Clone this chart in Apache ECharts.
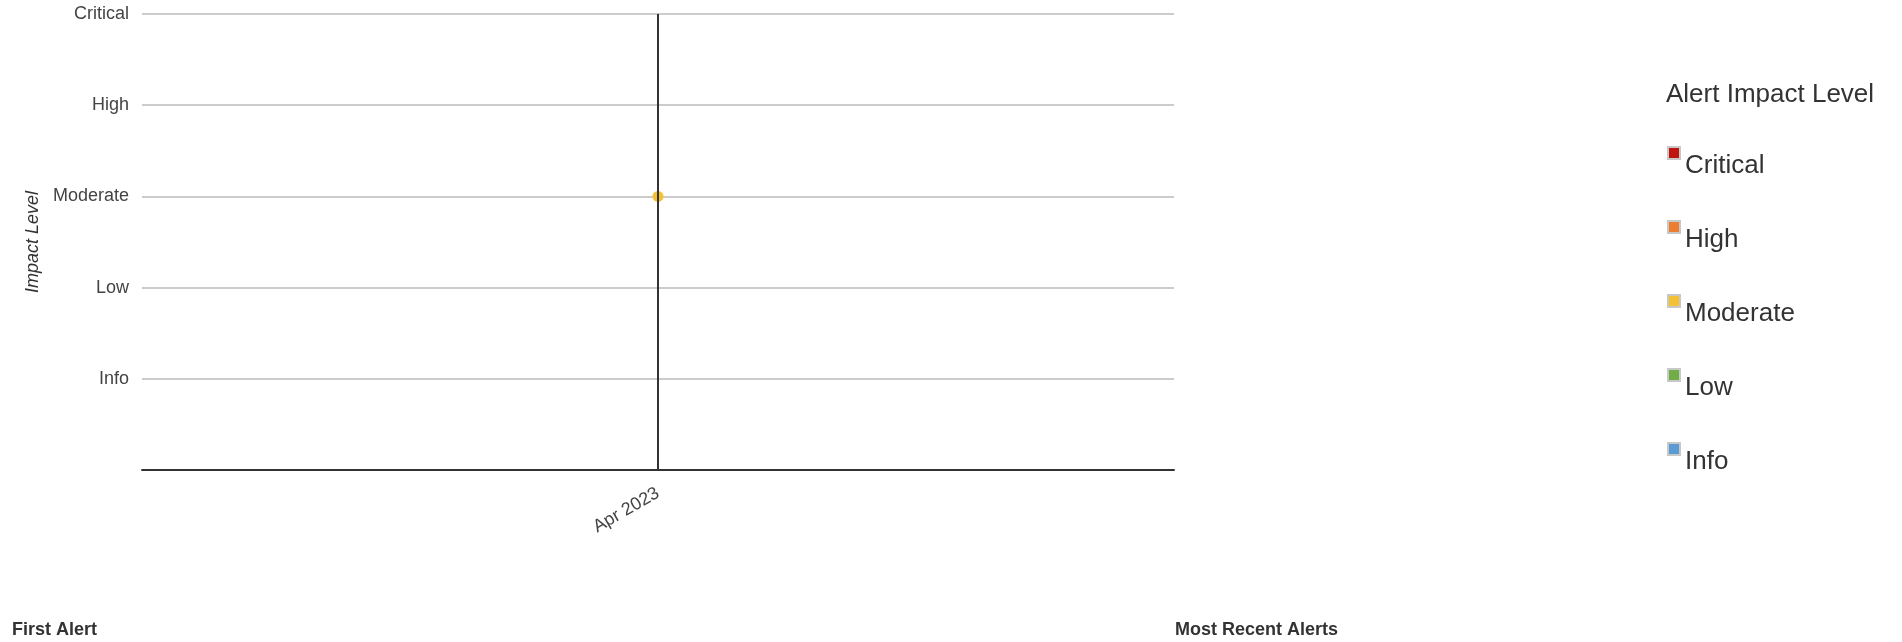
<!DOCTYPE html>
<html>
<head>
<meta charset="utf-8">
<script src="https://cdn.jsdelivr.net/npm/echarts@6/dist/echarts.min.js"></script>
<style>
html,body{margin:0;padding:0;background:#fff;}
#chart{width:1902px;height:642px;}
</style>
</head>
<body>
<div id="chart"></div>
<script>
// ---- data ----
var categories = ['Apr 2023'];
var levelLabels = ['', 'Info', 'Low', 'Moderate', 'High', 'Critical'];
var seriesNames = ['Critical', 'High', 'Moderate', 'Low', 'Info'];
var criticalValues = [null];
var highValues = [null];
var moderateValues = [3];
var lowValues = [null];
var infoValues = [null];
var seriesColors = ['#C0140F', '#ED7D31', '#F4C132', '#70AD47', '#5B9BD5'];
var markedCategory = 'Apr 2023';

var FONT = '"Liberation Sans", Arial, Helvetica, sans-serif';
var valuesByName = {
  'Critical': criticalValues,
  'High': highValues,
  'Moderate': moderateValues,
  'Low': lowValues,
  'Info': infoValues
};

var series = seriesNames.map(function (name, i) {
  var s = {
    name: name,
    type: 'scatter',
    symbol: 'circle',
    symbolSize: 11,
    itemStyle: { color: seriesColors[i], opacity: 1 },
    data: valuesByName[name]
  };
  if (i === 0) {
    s.markLine = {
      silent: true,
      symbol: ['none', 'none'],
      label: { show: false },
      lineStyle: { color: '#333', width: 2, type: 'solid' },
      data: [{ xAxis: markedCategory }]
    };
  }
  return s;
});

var chart = echarts.init(document.getElementById('chart'), null, { renderer: 'canvas' });
chart.setOption({
  animation: false,
  backgroundColor: '#fff',
  textStyle: { fontFamily: FONT },
  title: [
    { text: 'Alert Impact Level', left: 1666, top: 82, padding: 0,
      textStyle: { fontFamily: FONT, fontSize: 26, fontWeight: 'normal', color: '#333' } },
    { text: 'First Alert', left: 12, top: 621, padding: 0,
      textStyle: { fontFamily: FONT, fontSize: 18, fontWeight: 'bold', color: '#333' } },
    { text: 'Most Recent Alerts', left: 1175, top: 621, padding: 0,
      textStyle: { fontFamily: FONT, fontSize: 18, fontWeight: 'bold', color: '#333' } }
  ],
  legend: {
    orient: 'vertical',
    left: 1667,
    top: 146,
    padding: 0,
    itemWidth: 12,
    itemHeight: 12,
    itemGap: 41,
    icon: 'rect',
    selectedMode: false,
    data: seriesNames,
    itemStyle: { borderColor: '#c8c8c8', borderWidth: 2, opacity: 1 },
    formatter: function (n) { return '{a|' + n + '}'; },
    textStyle: {
      fontFamily: FONT, fontSize: 26, color: '#333',
      rich: { a: { fontFamily: FONT, fontSize: 26, color: '#333', padding: [26, 0, 0, 0] } }
    }
  },
  grid: { left: 142, right: 728, top: 14, bottom: 172, containLabel: false },
  xAxis: {
    type: 'category',
    data: categories,
    boundaryGap: true,
    axisLine: { show: true, lineStyle: { color: '#333', width: 2 } },
    axisTick: { show: false },
    splitLine: { show: false },
    axisLabel: { rotate: 30, margin: 22, fontFamily: FONT, fontSize: 18, color: '#444' }
  },
  yAxis: {
    type: 'value',
    min: 0,
    max: 5,
    interval: 1,
    name: 'Impact Level',
    nameLocation: 'middle',
    nameGap: 95,
    nameTextStyle: { fontFamily: FONT, fontSize: 18, fontStyle: 'italic', color: '#333' },
    axisLine: { show: false },
    axisTick: { show: false },
    splitLine: { show: true, lineStyle: { color: '#cccccc', width: 2 } },
    axisLabel: {
      margin: 13, fontFamily: FONT, fontSize: 18, color: '#444',
      formatter: function (v) { return levelLabels[Math.round(v)] || ''; }
    }
  },
  series: series
});
</script>
</body>
</html>
